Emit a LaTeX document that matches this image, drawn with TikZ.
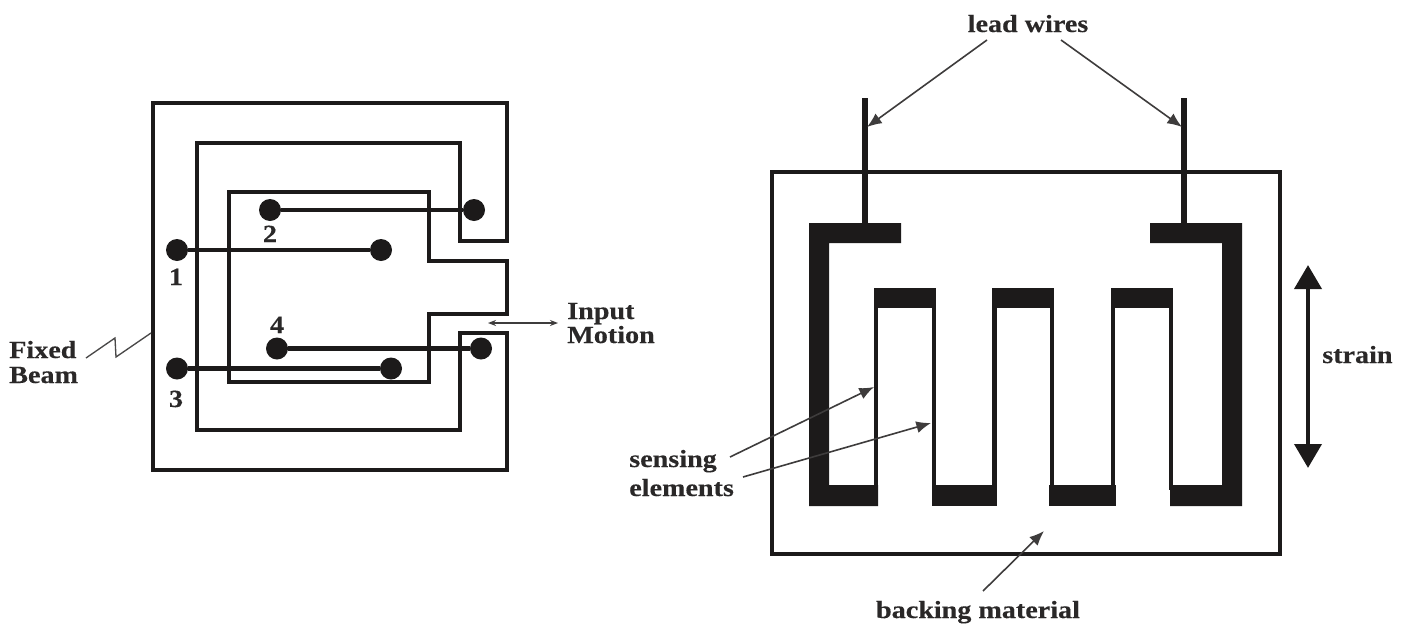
\documentclass[tikz,border=0pt]{standalone}
\usepackage{fontspec}
\setmainfont{Liberation Serif}[BoldFeatures={FakeStretch=1.14,FakeBold=0.25}]
\usetikzlibrary{arrows.meta}
\definecolor{ink}{HTML}{1C1A1A}
\definecolor{txt}{HTML}{2A2828}
\tikzset{
  frameline/.style={draw=ink,line width=3.3pt,line join=miter},
  wire/.style={draw=ink,line width=3.3pt},
  lead/.style={draw=ink,line width=3.8pt},
  grid wire/.style={draw=ink,line width=3.4pt},
  pad/.style={fill=ink,draw=none},
  pin/.style={circle,fill=ink,draw=none,minimum size=16.5pt,inner sep=0pt},
  lbl/.style={text=txt,font=\fontsize{18.5}{20}\selectfont\bfseries,inner sep=0pt},
  lblw/.style={lbl,anchor=base west},
  lblc/.style={lbl,anchor=base},
  thin arrow/.style={draw=ink!85,line width=1.2pt,-{Latex[length=11pt,width=9pt]}},
  small arrow/.style={draw=ink!85,line width=1pt,{Stealth[length=6pt,width=4.5pt]}-{Stealth[length=6pt,width=4.5pt]}},
  strain arrow/.style={draw=ink,line width=3.6pt,{Triangle[length=18pt,width=20pt]}-{Triangle[length=18pt,width=20pt]}},
  zig/.style={draw=ink!80,line width=1pt}
}
\begin{document}
\begin{tikzpicture}[x=0.75pt,y=-0.75pt]
\useasboundingbox (0,0) rectangle (1406,625);
\fill[white] (0,0) rectangle (1406,625);
% Left: fixed beam and moving element
\draw[frameline] (507,103) -- (507,241) -- (460,241) -- (460,143) -- (197,143) -- (197,430) -- (460,430) -- (460,333) -- (507,333) -- (507,470) -- (153,470) -- (153,103) -- cycle;
\draw[frameline] (229,192) -- (429,192) -- (429,261) -- (507,261) -- (507,314) -- (429,314) -- (429,382) -- (229,382) -- cycle;
\node[pin] (p1a) at (177,250) {};
\node[pin] (p1b) at (381,250) {};
\node[pin] (p2a) at (270,210) {};
\node[pin] (p2b) at (474,210) {};
\node[pin] (p3a) at (177,368.5) {};
\node[pin] (p3b) at (391,368.5) {};
\node[pin] (p4a) at (277,348.5) {};
\node[pin] (p4b) at (481,348.5) {};
\draw[wire] (p1a) -- (p1b);
\draw[wire] (p2a) -- (p2b);
\draw[wire] (p3a) -- (p3b);
\draw[wire] (p4a) -- (p4b);
\node[lblc] (n1) at (176,285) {1};
\node[lblc] (n2) at (270,242) {2};
\node[lblc] (n3) at (176,407) {3};
\node[lblc] (n4) at (277,333) {4};
\node[lblw] (fixed) at (9,358) {Fixed};
\node[lblw] (beam) at (9,383) {Beam};
\coordinate (zs) at (86,358);
\coordinate (zt) at (151,333);
\draw[zig] (zs) -- (115,338) -- (116,357) -- (zt);
\coordinate (ima) at (488,323);
\coordinate (imb) at (558,323);
\draw[small arrow] (ima) -- (imb);
\node[lblw] (input) at (567,319) {Input};
\node[lblw] (motion) at (567,343) {Motion};
% Right: strain gauge
\draw[frameline] (772,172) rectangle (1280,554);
\coordinate (lla) at (865,98);
\coordinate (llb) at (865,226);
\coordinate (lra) at (1184,98);
\coordinate (lrb) at (1184,226);
\draw[lead] (lla) -- (llb);
\draw[lead] (lra) -- (lrb);
\fill[pad] (809,223) -- (901,223) -- (901,243) -- (829,243) -- (829,485) -- (878,485) -- (878,506) -- (809,506) -- cycle;
\fill[pad] (1242,223) -- (1150,223) -- (1150,243) -- (1222,243) -- (1222,485) -- (1170,485) -- (1170,506) -- (1242,506) -- cycle;
\fill[pad] (874,288) rectangle (936,308);
\fill[pad] (992,288) rectangle (1054,308);
\fill[pad] (1111,288) rectangle (1173,308);
\fill[pad] (932,485) rectangle (997,506);
\fill[pad] (1049,485) rectangle (1116,506);
\draw[grid wire] (876,300) -- (876,490);
\draw[grid wire] (934,300) -- (934,490);
\draw[grid wire] (994.5,300) -- (994.5,490);
\draw[grid wire] (1052,300) -- (1052,490);
\draw[grid wire] (1113,300) -- (1113,490);
\draw[grid wire] (1171,300) -- (1171,490);
\node[lblc] (leadw) at (1028,32) {lead wires};
\coordinate (a1) at (987,40);
\coordinate (a1t) at (867,127);
\coordinate (a2) at (1061,40);
\coordinate (a2t) at (1182,127);
\draw[thin arrow] (a1) -- (a1t);
\draw[thin arrow] (a2) -- (a2t);
\node[lblw] (sensing) at (629,467) {sensing};
\node[lblw] (elements) at (629,496) {elements};
\coordinate (s1) at (730,457);
\coordinate (s1t) at (874,387);
\coordinate (s2) at (743,477);
\coordinate (s2t) at (931,423);
\draw[thin arrow] (s1) -- (s1t);
\draw[thin arrow] (s2) -- (s2t);
\node[lblc] (backing) at (978,618) {backing material};
\coordinate (b1) at (983,591);
\coordinate (b1t) at (1044,531);
\draw[thin arrow] (b1) -- (b1t);
\coordinate (st) at (1308,265);
\coordinate (sb) at (1308,468);
\draw[strain arrow] (st) -- (sb);
\node[lblw] (strain) at (1322,363) {strain};
\end{tikzpicture}
\end{document}
